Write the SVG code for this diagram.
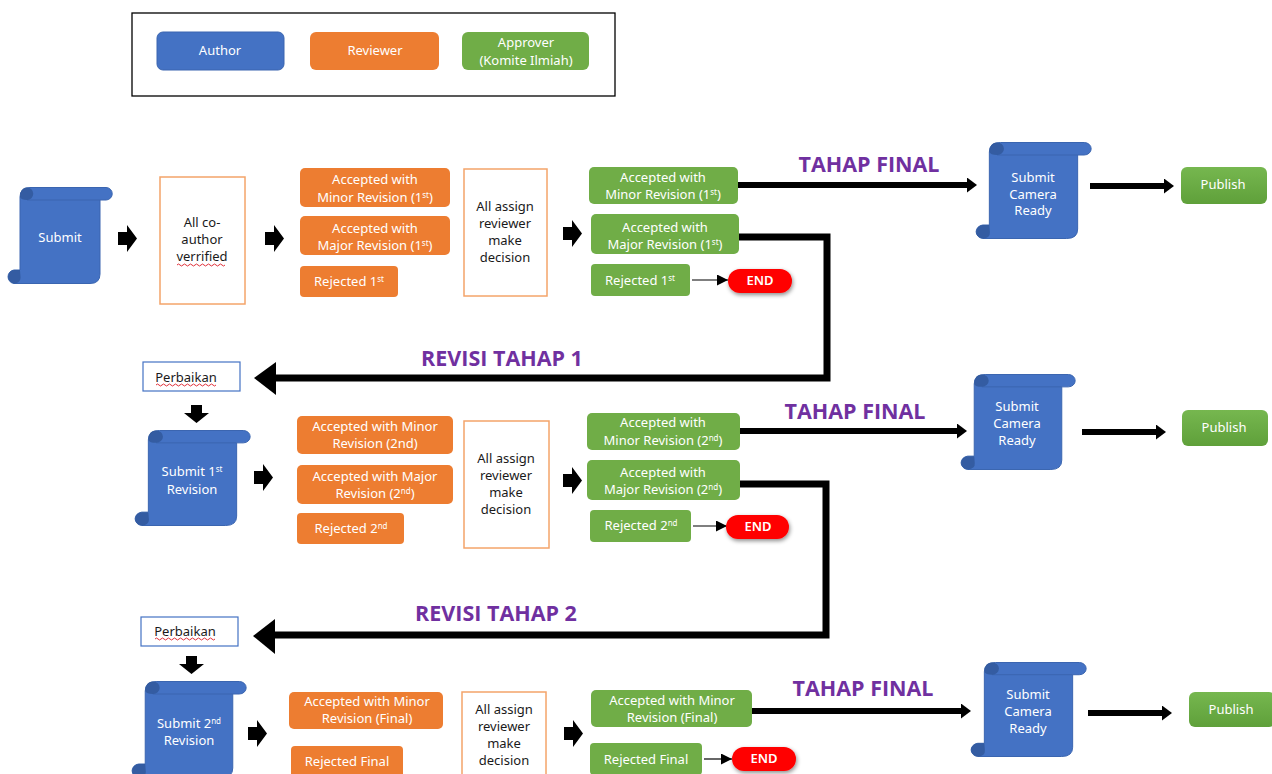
<svg xmlns="http://www.w3.org/2000/svg" width="1272" height="774" viewBox="0 0 1272 774">
<style>
text{font-family:"Noto Sans","Open Sans","Liberation Sans",sans-serif;font-size:13px;text-anchor:middle;fill:#fff}
.dk text,text.dk{fill:#1a1a1a}
.sm{font-size:8px}
.bl{fill:#4472c4;stroke:#3a65b0;stroke-width:1}
.or{fill:#ed7d31}
.gr{fill:#70ad47}
.wo{fill:#fff;stroke:#f4a46a;stroke-width:1.5}
.wb{fill:#fff;stroke:#4472c4;stroke-width:1.2}
.pub{fill:url(#pg)}
.end{fill:#f00;filter:url(#sh)}
.ttl{font-size:21.500px;font-weight:700;fill:#7030a0;font-family:"Open Sans","Noto Sans",sans-serif}
.th{fill:none;stroke:#000;stroke-width:6}
.tk{fill:none;stroke:#000;stroke-width:7}
.tn{fill:none;stroke:#000;stroke-width:1.2}
.sq{fill:none;stroke:#e0303a;stroke-width:1}
</style>
<defs>
<linearGradient id="pg" x1="0" y1="0" x2="0" y2="1"><stop offset="0" stop-color="#76b74f"/><stop offset="1" stop-color="#5fa03a"/></linearGradient>
<filter id="sh" x="-20%" y="-30%" width="140%" height="170%"><feDropShadow dx="1" dy="2" stdDeviation="2" flood-color="#000" flood-opacity=".45"/></filter>
<symbol id="scroll" viewBox="0 0 106 97" preserveAspectRatio="none">
<path class="bl" vector-effect="non-scaling-stroke" d="M13 10Q13 .5 23 .5H99A6.2 6.2 0 0 1 99 13H93V87Q93 96.5 83 96.5H7A6.8 6.8 0 0 1 7 83H13Z"/>
<path fill="none" stroke="#3a65b0" vector-effect="non-scaling-stroke" d="M20 13H93"/>
<path fill="#2f5597" d="M13 10Q13 .5 20 .5A6 6 0 0 1 20 13Q14 13 13 10ZM13 83H7A6.8 6.8 0 0 0 7 96.5Q14 96 13.500 90Z" opacity=".75"/>
</symbol>
<path id="blk" d="M0 7H9V0L19 13.500L9 27V20H0Z" fill="#000"/>
<path id="dwn" d="M7 0H18V8H25L12.500 18L0 8H7Z" fill="#000"/>
<marker id="mh" markerUnits="userSpaceOnUse" markerWidth="11" markerHeight="15" refX="0" refY="7.500" orient="auto"><path d="M0 0L10 7.500L0 15Z" fill="#000"/></marker>
<marker id="ms" markerUnits="userSpaceOnUse" markerWidth="12" markerHeight="11" refX="11" refY="5.500" orient="auto"><path d="M0 0L11 5.500L0 11Z" fill="#000"/></marker>
</defs>
<g id="legend">
<rect x="132" y="13" width="483" height="83" fill="#fff" stroke="#000" stroke-width="1.3"/>
<g id="legend-author"><rect class="bl" x="157" y="32" width="127" height="38" rx="6"/><text x="220" y="55">Author</text></g>
<g id="legend-reviewer"><rect class="or" x="310" y="32" width="129" height="38" rx="6"/><text x="375" y="55">Reviewer</text></g>
<g id="legend-approver"><rect class="gr" x="462" y="32" width="127" height="38" rx="6"/><text x="526" y="47">Approver</text><text x="526" y="65">(Komite Ilmiah)</text></g>
</g>
<g id="connectors">
<use href="#blk" x="118" y="225"/><use href="#blk" x="265" y="225"/><use href="#blk" x="563" y="220"/>
<use href="#dwn" x="184" y="405"/>
<use href="#blk" x="254" y="464"/><use href="#blk" x="563" y="467"/>
<use href="#dwn" x="179" y="656"/>
<use href="#blk" x="248" y="720"/><use href="#blk" x="564" y="720"/>
<path class="th" marker-end="url(#mh)" d="M730 185H967"/>
<path class="th" marker-end="url(#mh)" d="M1090 186H1164"/>
<path class="tn" marker-end="url(#ms)" d="M692 280H728"/>
<path class="tk" d="M733 237H827V378H276"/>
<path d="M276 362V395L254 378Z" fill="#000"/>
<path class="th" marker-end="url(#mh)" d="M730 431H957"/>
<path class="th" marker-end="url(#mh)" d="M1082 432H1156"/>
<path class="tn" marker-end="url(#ms)" d="M693 526H727"/>
<path class="tk" d="M733 484H826V635H275"/>
<path d="M275 619V654L253 636Z" fill="#000"/>
<path class="th" marker-end="url(#mh)" d="M745 711H961"/>
<path class="th" marker-end="url(#mh)" d="M1088 713H1162"/>
<path class="tn" marker-end="url(#ms)" d="M704 759H732"/>
</g>
<g id="labels">
<text class="ttl" x="869" y="172">TAHAP FINAL</text>
<text class="ttl" x="502" y="366">REVISI TAHAP 1</text>
<text class="ttl" x="855" y="419">TAHAP FINAL</text>
<text class="ttl" x="496" y="621">REVISI TAHAP 2</text>
<text class="ttl" x="863" y="696">TAHAP FINAL</text>
</g>
<g id="submit"><use href="#scroll" x="7" y="187" width="106" height="97"/><text x="60" y="242">Submit</text></g>
<g id="coauthor" class="dk"><rect class="wo" x="160" y="177" width="85" height="127"/><text x="202" y="227">All co-</text><text x="202" y="244">author</text><text x="202" y="261">verrified</text><path class="sq" d="M177 265q1.500-2 3 0t3 0 3 0 3 0 3 0 3 0 3 0 3 0 3 0 3 0 3 0 3 0 3 0 3 0 3 0 3 0"/></g>
<g id="r1-minor"><rect class="or" x="300" y="168" width="150" height="39" rx="5"/><text x="375" y="184">Accepted with</text><text x="375" y="202">Minor Revision (1<tspan class="sm" dy="-4">st</tspan><tspan dy="4">)</tspan></text></g>
<g id="r1-major"><rect class="or" x="300" y="216" width="150" height="39" rx="5"/><text x="375" y="233">Accepted with</text><text x="375" y="250">Major Revision (1<tspan class="sm" dy="-4">st</tspan><tspan dy="4">)</tspan></text></g>
<g id="r1-rejected"><rect class="or" x="300" y="266" width="98" height="31" rx="4"/><text x="349" y="286">Rejected 1<tspan class="sm" dy="-4">st</tspan></text></g>
<g id="decision1" class="dk"><rect class="wo" x="464" y="169" width="83" height="127"/><text x="505" y="211">All assign</text><text x="505" y="228">reviewer</text><text x="505" y="245">make</text><text x="505" y="262">decision</text></g>
<g id="a1-minor"><rect class="gr" x="589" y="167" width="149" height="37" rx="5"/><text x="663" y="182">Accepted with</text><text x="663" y="199">Minor Revision (1<tspan class="sm" dy="-4">st</tspan><tspan dy="4">)</tspan></text></g>
<g id="a1-major"><rect class="gr" x="591" y="214" width="148" height="40" rx="5"/><text x="665" y="232">Accepted with</text><text x="665" y="249">Major Revision (1<tspan class="sm" dy="-4">st</tspan><tspan dy="4">)</tspan></text></g>
<g id="a1-rejected"><rect class="gr" x="591" y="264" width="99" height="32" rx="4"/><text x="640" y="285">Rejected 1<tspan class="sm" dy="-4">st</tspan></text></g>
<g id="end1"><rect class="end" x="728" y="269" width="64" height="24" rx="12"/><text x="760" y="285" font-weight="600">END</text></g>
<g id="camera1"><use href="#scroll" x="975" y="142" width="117" height="97"/><text x="1033" y="182">Submit</text><text x="1033" y="199">Camera</text><text x="1033" y="215">Ready</text></g>
<g id="publish1"><rect class="pub" x="1181" y="167" width="86" height="37" rx="6"/><text x="1223" y="189">Publish</text></g>
<g id="perbaikan1" class="dk"><rect class="wb" x="143" y="362" width="97" height="29"/><text x="186" y="382">Perbaikan</text><path class="sq" d="M156 385q1.500-2 3 0t3 0 3 0 3 0 3 0 3 0 3 0 3 0 3 0 3 0 3 0 3 0 3 0 3 0 3 0 3 0 3 0 3 0 3 0 3 0"/></g>
<g id="submit-rev1"><use href="#scroll" x="134" y="430" width="117" height="96"/><text x="192" y="476">Submit 1<tspan class="sm" dy="-4">st</tspan></text><text x="192" y="494">Revision</text></g>
<g id="r2-minor"><rect class="or" x="297" y="416" width="156" height="38" rx="5"/><text x="375" y="431">Accepted with Minor</text><text x="375" y="448">Revision (2nd)</text></g>
<g id="r2-major"><rect class="or" x="297" y="465" width="156" height="39" rx="5"/><text x="375" y="481">Accepted with Major</text><text x="375" y="498">Revision (2<tspan class="sm" dy="-4">nd</tspan><tspan dy="4">)</tspan></text></g>
<g id="r2-rejected"><rect class="or" x="297" y="513" width="107" height="31" rx="4"/><text x="351" y="533">Rejected 2<tspan class="sm" dy="-4">nd</tspan></text></g>
<g id="decision2" class="dk"><rect class="wo" x="464" y="421" width="85" height="127"/><text x="506" y="463">All assign</text><text x="506" y="480">reviewer</text><text x="506" y="497">make</text><text x="506" y="514">decision</text></g>
<g id="a2-minor"><rect class="gr" x="587" y="413" width="153" height="37" rx="5"/><text x="663" y="427">Accepted with</text><text x="663" y="445">Minor Revision (2<tspan class="sm" dy="-4">nd</tspan><tspan dy="4">)</tspan></text></g>
<g id="a2-major"><rect class="gr" x="587" y="460" width="153" height="40" rx="5"/><text x="663" y="477">Accepted with</text><text x="663" y="494">Major Revision (2<tspan class="sm" dy="-4">nd</tspan><tspan dy="4">)</tspan></text></g>
<g id="a2-rejected"><rect class="gr" x="590" y="510" width="101" height="32" rx="4"/><text x="641" y="530">Rejected 2<tspan class="sm" dy="-4">nd</tspan></text></g>
<g id="end2"><rect class="end" x="726" y="515" width="63" height="24" rx="12"/><text x="758" y="531" font-weight="600">END</text></g>
<g id="camera2"><use href="#scroll" x="960" y="374" width="116" height="96"/><text x="1017" y="411">Submit</text><text x="1017" y="428">Camera</text><text x="1017" y="445">Ready</text></g>
<g id="publish2"><rect class="pub" x="1182" y="410" width="86" height="36" rx="6"/><text x="1224" y="432">Publish</text></g>
<g id="perbaikan2" class="dk"><rect class="wb" x="141" y="617" width="97" height="29"/><text x="185" y="636">Perbaikan</text><path class="sq" d="M155 639q1.500-2 3 0t3 0 3 0 3 0 3 0 3 0 3 0 3 0 3 0 3 0 3 0 3 0 3 0 3 0 3 0 3 0 3 0 3 0 3 0 3 0"/></g>
<g id="submit-rev2"><use href="#scroll" x="131" y="681" width="116" height="97"/><text x="189" y="728">Submit 2<tspan class="sm" dy="-4">nd</tspan></text><text x="189" y="745">Revision</text></g>
<g id="r3-minor"><rect class="or" x="289" y="692" width="154" height="37" rx="5"/><text x="367" y="706">Accepted with Minor</text><text x="367" y="723">Revision (Final)</text></g>
<g id="r3-rejected"><rect class="or" x="291" y="746" width="112" height="34" rx="4"/><text x="347" y="766">Rejected Final</text></g>
<g id="decision3" class="dk"><rect class="wo" x="462" y="692" width="84" height="90"/><text x="504" y="714">All assign</text><text x="504" y="731">reviewer</text><text x="504" y="748">make</text><text x="504" y="765">decision</text></g>
<g id="a3-minor"><rect class="gr" x="591" y="690" width="161" height="37" rx="5"/><text x="672" y="705">Accepted with Minor</text><text x="672" y="722">Revision (Final)</text></g>
<g id="a3-rejected"><rect class="gr" x="590" y="743" width="112" height="32" rx="4"/><text x="646" y="764">Rejected Final</text></g>
<g id="end3"><rect class="end" x="732" y="747" width="64" height="24" rx="12"/><text x="764" y="763" font-weight="600">END</text></g>
<g id="camera3"><use href="#scroll" x="970" y="662" width="117" height="95"/><text x="1028" y="699">Submit</text><text x="1028" y="716">Camera</text><text x="1028" y="733">Ready</text></g>
<g id="publish3"><rect class="pub" x="1189" y="692" width="86" height="35" rx="6"/><text x="1231" y="714">Publish</text></g>
</svg>
